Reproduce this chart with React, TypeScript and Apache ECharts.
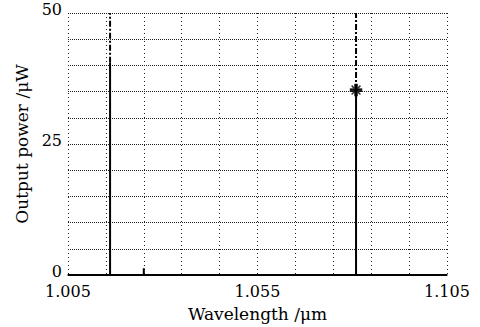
import React, { useEffect, useRef } from "react";
import * as echarts from "echarts";

// Spectrum trace (wavelength in µm, output power in µW)
const spectrumWavelengths = [1.005, 1.0161, 1.0161, 1.0161, 1.025, 1.025, 1.025, 1.081, 1.081, 1.081, 1.105];
const spectrumPowers = [0, 0, 40.5, 0, 0, 1.3, 0, 0, 35.3, 0, 0];

// Lasing peaks with guide lines to the top of the frame
const peakWavelengths = [1.0161, 1.081];
const peakPowers = [40.5, 35.3];
const markedPeakWavelength = [1.081];
const markedPeakPower = [35.3];

const xMinWavelength = 1.005;
const xLabelValues = [1.005, 1.055, 1.105];
const yLabelValues = [0, 25, 50];
const yMax = 50;

const toX = (w: number) => (w - xMinWavelength) * 1000;

const FONT = "'DejaVu Serif', 'Liberation Serif', serif";

export default function App() {
  const ref = useRef<HTMLDivElement>(null);
  useEffect(() => {
    if (!ref.current) return;
    const chart = echarts.init(ref.current, undefined, { renderer: "svg" });
    const spectrum = spectrumWavelengths.map((w, i) => [toX(w), spectrumPowers[i]]);
    const guideSeries = peakWavelengths.map((w, i) => ({
      type: "line",
      data: [
        [toX(w), peakPowers[i]],
        [toX(w), yMax],
      ],
      symbol: "none",
      lineStyle: { color: "#000", width: 2, type: [6, 2, 2, 2] },
      z: 3,
    }));
    const asterisk =
      "path://M0,4 L10,4 L10,6 L0,6 Z M4,0 L6,0 L6,10 L4,10 Z M1,1 L9,9 M9,1 L1,9";
    chart.setOption({
      animation: false,
      textStyle: { fontFamily: FONT },
      grid: { left: 68, right: 33, top: 13, bottom: 52 },
      xAxis: {
        type: "value",
        min: 0,
        max: 100,
        interval: 10,
        name: "Wavelength /\u03bcm",
        nameLocation: "middle",
        nameGap: 30,
        nameTextStyle: { fontFamily: FONT, fontSize: 17, color: "#000" },
        axisLine: { show: true, onZero: false, lineStyle: { color: "#000", width: 1.5 } },
        axisTick: { show: false },
        axisLabel: {
          margin: 10,
          fontFamily: FONT,
          fontSize: 16,
          lineHeight: 12,
          color: "#000",
          formatter: (v: number) => {
            const w = xMinWavelength + v / 1000;
            return xLabelValues.some((l) => Math.abs(l - w) < 1e-6) ? w.toFixed(3) : "";
          },
        },
        splitLine: { show: true, lineStyle: { color: "#222", width: 1, type: [1, 3] } },
      },
      yAxis: {
        type: "value",
        min: 0,
        max: yMax,
        interval: 5,
        name: "Output power /\u03bcW",
        nameLocation: "middle",
        nameGap: 37,
        nameTextStyle: { fontFamily: FONT, fontSize: 17, color: "#000" },
        axisLine: { show: false },
        axisTick: { show: false },
        axisLabel: {
          margin: 6,
          fontFamily: FONT,
          fontSize: 16,
          lineHeight: 8,
          verticalAlign: "bottom",
          color: "#000",
          formatter: (v: number) =>
            yLabelValues.some((l) => Math.abs(l - v) < 1e-6) ? String(Math.round(v)) : "",
        },
        splitLine: { show: true, lineStyle: { color: "#222", width: 1, type: [1, 1] } },
      },
      series: [
        {
          type: "line",
          data: spectrum,
          symbol: "none",
          lineStyle: { color: "#000", width: 2 },
          z: 4,
        },
        ...guideSeries,
        {
          type: "scatter",
          data: markedPeakWavelength.map((w, i) => [toX(w), markedPeakPower[i]]),
          symbol: asterisk,
          symbolSize: 11,
          itemStyle: { color: "#000", borderColor: "#000", borderWidth: 1.5 },
          z: 5,
        },
      ],
    });
    return () => chart.dispose();
  }, []);
  return (
    <div
      ref={ref}
      style={{ position: "absolute", left: 0, top: 0, width: 480, height: 327 }}
    />
  );
}
